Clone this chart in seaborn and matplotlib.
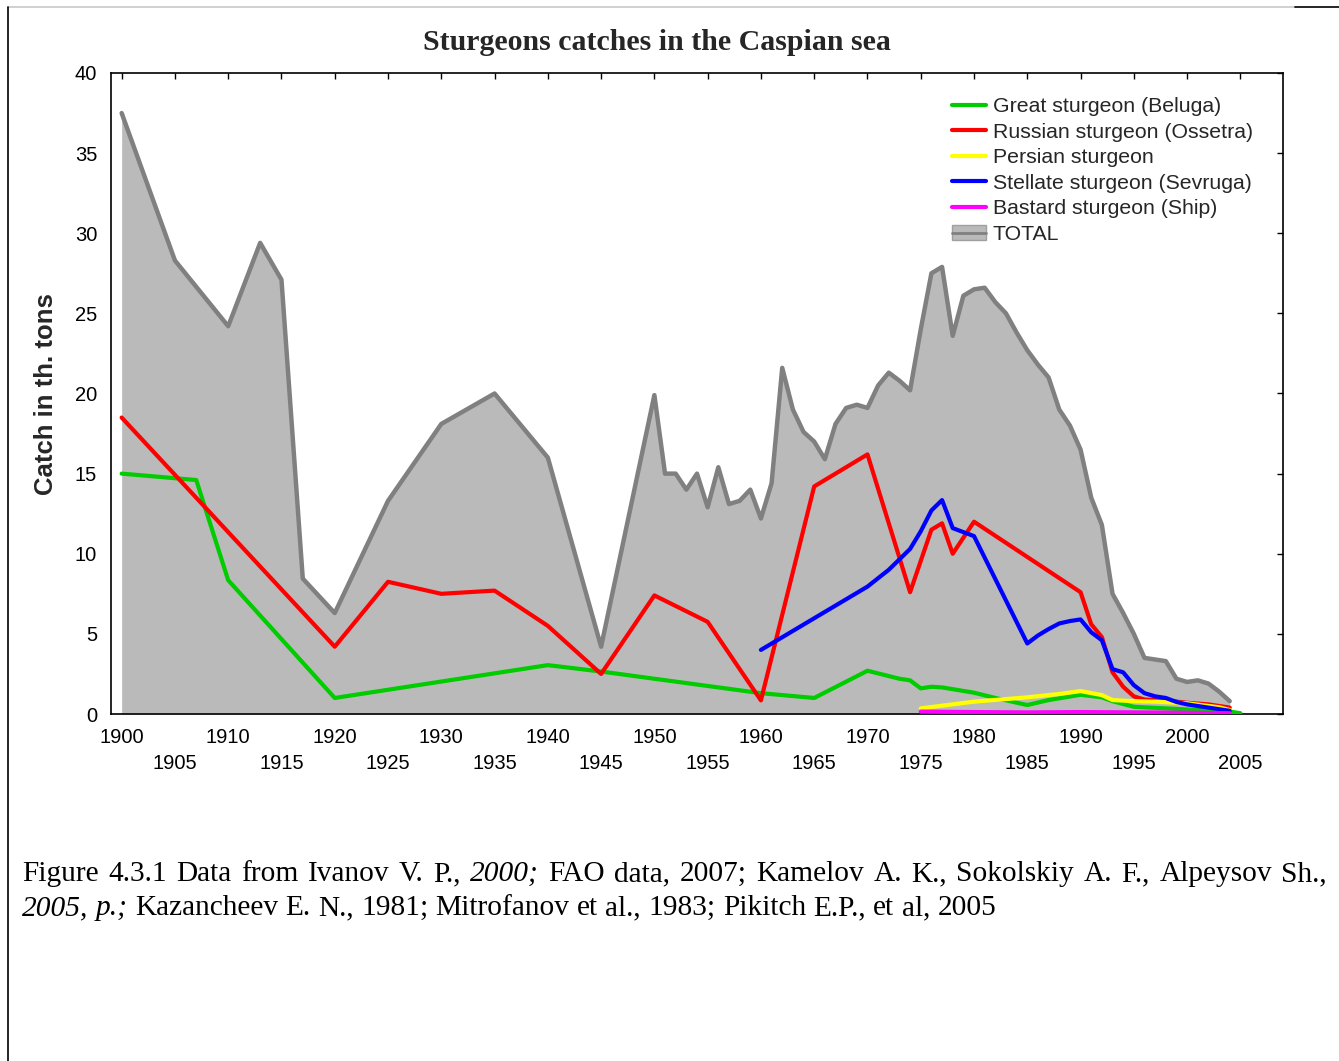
import pandas as pd
import seaborn as sns
import matplotlib
matplotlib.use("Agg")
import matplotlib.pyplot as plt
from matplotlib.lines import Line2D
from matplotlib.patches import Patch

# Values (thousand tons)
total_years = [1900, 1905, 1910, 1913, 1915, 1917, 1920, 1925, 1930, 1935, 1940, 1945,
               1950, 1951, 1952, 1953, 1954, 1955, 1956, 1957, 1958, 1959, 1960, 1961,
               1962, 1963, 1964, 1965, 1966, 1967, 1968, 1969, 1970, 1971, 1972, 1973,
               1974, 1975, 1976, 1977, 1978, 1979, 1980, 1981, 1982, 1983, 1984, 1985,
               1986, 1987, 1988, 1989, 1990, 1991, 1992, 1993, 1994, 1995, 1996, 1997,
               1998, 1999, 2000, 2001, 2002, 2003, 2004]
total_catch = [37.5, 28.3, 24.2, 29.4, 27.1, 8.45, 6.3, 13.3, 18.1, 20.0, 16.0, 4.2,
               19.9, 15.0, 15.0, 14.0, 15.0, 12.9, 15.4, 13.1, 13.3, 14.0, 12.2, 14.4,
               21.6, 19.0, 17.6, 17.0, 15.9, 18.1, 19.1, 19.3, 19.1, 20.5, 21.3, 20.8,
               20.2, 24.0, 27.5, 27.9, 23.6, 26.1, 26.5, 26.6, 25.7, 25.0, 23.8, 22.7,
               21.8, 21.0, 19.0, 18.0, 16.5, 13.5, 11.8, 7.5, 6.3, 5.0, 3.5, 3.4,
               3.3, 2.2, 2.0, 2.1, 1.9, 1.4, 0.8]

beluga_years = [1900, 1907, 1910, 1920, 1940, 1945, 1960, 1965, 1970, 1973, 1974, 1975,
                1976, 1977, 1980, 1982, 1985, 1987, 1990, 1992, 1993, 1995, 1998, 2004, 2005]
beluga_catch = [15.0, 14.6, 8.35, 1.0, 3.05, 2.65, 1.3, 1.0, 2.7, 2.2, 2.1, 1.6,
                1.7, 1.66, 1.33, 1.0, 0.56, 0.87, 1.2, 1.04, 0.8, 0.45, 0.35, 0.15, 0.05]

ossetra_years = [1900, 1920, 1925, 1930, 1935, 1940, 1945, 1950, 1955, 1960, 1965, 1970,
                 1974, 1976, 1977, 1978, 1980, 1990, 1991, 1992, 1993, 1994, 1995, 1996,
                 1998, 2000, 2002, 2004]
ossetra_catch = [18.5, 4.2, 8.25, 7.5, 7.7, 5.5, 2.5, 7.4, 5.75, 0.85, 14.2, 16.2,
                 7.6, 11.5, 11.9, 10.0, 12.0, 7.6, 5.6, 4.8, 2.6, 1.7, 1.1, 0.9,
                 0.85, 0.7, 0.6, 0.4]

persian_years = [1975, 1980, 1985, 1988, 1990, 1992, 1993, 1995, 1997, 2000, 2003, 2004]
persian_catch = [0.35, 0.77, 1.04, 1.25, 1.43, 1.18, 0.87, 0.8, 0.77, 0.67, 0.42, 0.25]

sevruga_years = [1960, 1970, 1972, 1974, 1975, 1976, 1977, 1978, 1980, 1985, 1986, 1987,
                 1988, 1989, 1990, 1991, 1992, 1993, 1994, 1995, 1996, 1997, 1998, 1999,
                 2000, 2001, 2002, 2003, 2004]
sevruga_catch = [4.0, 7.95, 9.0, 10.3, 11.4, 12.7, 13.35, 11.6, 11.1, 4.4, 4.9, 5.3,
                 5.65, 5.8, 5.9, 5.1, 4.6, 2.8, 2.6, 1.8, 1.3, 1.1, 1.0, 0.75,
                 0.6, 0.5, 0.4, 0.3, 0.2]

ship_years = [1975, 1980, 1985, 1990, 1995, 2000, 2004]
ship_catch = [0.15, 0.12, 0.1, 0.12, 0.1, 0.08, 0.05]

species = ["Great sturgeon (Beluga)", "Russian sturgeon (Ossetra)", "Persian sturgeon",
           "Stellate sturgeon (Sevruga)", "Bastard sturgeon (Ship)"]
colors = ["#00cc00", "#ff0000", "#ffff00", "#0000ff", "#ff00ff"]

frames = []
for name, yrs, vals in zip(species,
                           [beluga_years, ossetra_years, persian_years, sevruga_years, ship_years],
                           [beluga_catch, ossetra_catch, persian_catch, sevruga_catch, ship_catch]):
    frames.append(pd.DataFrame({"year": yrs, "catch": vals, "species": name}))
df = pd.concat(frames, ignore_index=True)
total = pd.DataFrame({"year": total_years, "catch": total_catch})

sns.set_style("white")
plt.rcParams["font.family"] = ["Liberation Sans", "DejaVu Sans"]

W, H = 1339, 1061
fig = plt.figure(figsize=(W / 100, H / 100), dpi=100)
ax = fig.add_axes([111 / W, 1 - 714 / H, (1283 - 111) / W, (714 - 73) / H])

fill_col = "#bababa"
line_grey = "#808080"
ax.fill_between(total["year"], total["catch"], color=fill_col, lw=0, zorder=1)
sns.lineplot(data=total, x="year", y="catch", color=line_grey, lw=3.2, ax=ax, zorder=2)
sns.lineplot(data=df, x="year", y="catch", hue="species", hue_order=species,
             palette=colors, lw=3, estimator=None, sort=False, legend=False, ax=ax, zorder=3)

ax.set_xlim(1899, 2009)
ax.set_ylim(0, 40)
xt = list(range(1900, 2006, 5))
ax.set_xticks(xt)
ax.set_xticklabels([str(t) if i % 2 == 0 else "\n" + str(t) for i, t in enumerate(xt)])
for lab in ax.get_xticklabels():
    lab.set_linespacing(1.45)
ax.set_yticks(range(0, 41, 5))
ax.tick_params(direction="in", length=4, width=1, top=True, right=True,
               labelsize=14.5, colors="black")
ax.tick_params(axis="x", pad=10)
ax.tick_params(axis="y", pad=10)
ax.set_xlabel("")
ax.set_ylabel("")
for s in ax.spines.values():
    s.set_color("black")
    s.set_linewidth(1.2)

fig.text(46 / W, 1 - 394 / H, "Catch in th. tons", rotation=90, ha="center", va="center",
         fontsize=18.5, fontweight="bold")
fig.text(657 / W, 1 - 43 / H, "Sturgeons catches in the Caspian sea", ha="center",
         va="center", fontsize=21.5, fontweight="bold", family="Liberation Serif")

handles = [Line2D([], [], color=c, lw=3) for c in colors]
handles.append((Patch(facecolor=fill_col, edgecolor="#a0a0a0", lw=1),
                Line2D([], [], color=line_grey, lw=2)))
ax.legend(handles, species + ["TOTAL"], loc="upper left",
          bbox_to_anchor=((952 - 111) / 1172, 1 - (97 - 73) / 641),
          frameon=False, fontsize=15.3, handlelength=1.62, handletextpad=0.3,
          labelspacing=0.31, borderpad=0, borderaxespad=0)

# page frame from the source document
fig.add_artist(Line2D([8 / W, 1295 / W], [1 - 7 / H, 1 - 7 / H], color="#c8c8c8", lw=1.2))
fig.add_artist(Line2D([1295 / W, 1], [1 - 7 / H, 1 - 7 / H], color="black", lw=1.2))
fig.add_artist(Line2D([8 / W, 8 / W], [0, 1 - 7 / H], color="black", lw=1.2))

# caption, first line justified, second line left aligned
cap_fs = 21.2
renderer = fig.canvas.get_renderer()


def place_words(words, y_px, x_left, x_right=None):
    texts = []
    for w, st in words:
        t = fig.text(0, 1 - y_px / H, w, fontsize=cap_fs, fontstyle=st, color="black",
                     family="Liberation Serif", va="baseline", ha="left")
        texts.append((t, t.get_window_extent(renderer).width))
    total_w = sum(wd for _, wd in texts)
    if x_right is None:
        probe = fig.text(0, 0, "a a", fontsize=cap_fs, family="Liberation Serif")
        probe2 = fig.text(0, 0, "aa", fontsize=cap_fs, family="Liberation Serif")
        gap = probe.get_window_extent(renderer).width - probe2.get_window_extent(renderer).width
        probe.remove()
        probe2.remove()
    else:
        gap = (x_right - x_left - total_w) / (len(texts) - 1)
    x = x_left
    for t, wd in texts:
        t.set_x(x / W)
        x += wd + gap


line1 = "Figure 4.3.1 Data from Ivanov V. P., 2000; FAO data, 2007; Kamelov A. K., Sokolskiy A. F., Alpeysov Sh.,"
words1 = [(w, "italic" if w == "2000;" else "normal") for w in line1.split()]
line2 = "2005, p.; Kazancheev E. N., 1981; Mitrofanov et al., 1983; Pikitch E.P., et al, 2005"
words2 = [(w, "italic" if i < 2 else "normal") for i, w in enumerate(line2.split())]
place_words(words1, 881, 22, 1327)
place_words(words2, 915, 22)

fig.savefig("out.png", dpi=100)
